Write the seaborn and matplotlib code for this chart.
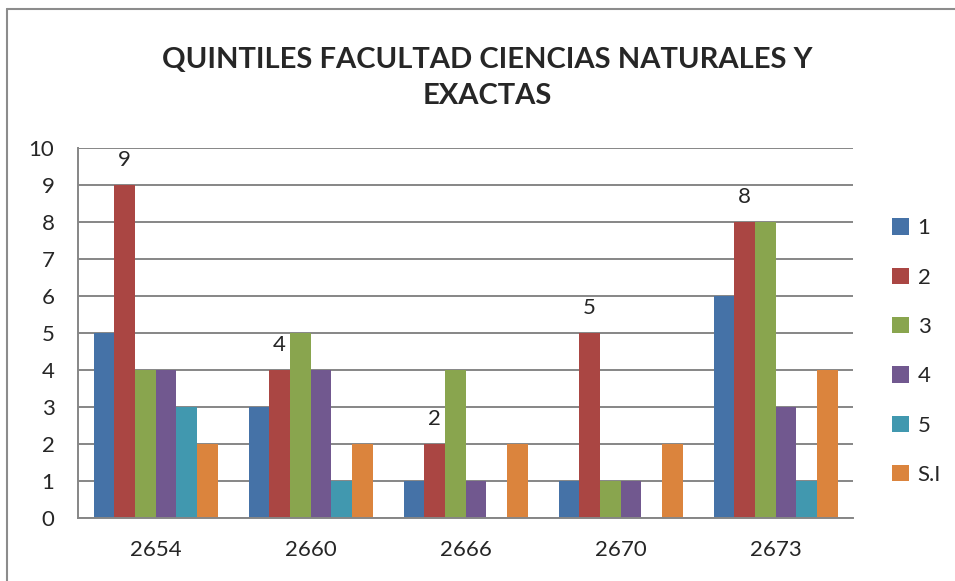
import pandas as pd
import matplotlib.pyplot as plt
import seaborn as sns
from matplotlib.patches import Patch
from matplotlib.lines import Line2D

# ------------------------------------------------------------
# DATA
# ------------------------------------------------------------
grupos = ["2654", "2660", "2666", "2670", "2673"]
quintiles = ["1", "2", "3", "4", "5", "S.I"]
q1 = [5, 3, 1, 1, 6]
q2 = [9, 4, 2, 5, 8]
q3 = [4, 5, 4, 1, 8]
q4 = [4, 4, 1, 1, 3]
q5 = [3, 1, 0, 0, 1]
si = [2, 2, 2, 2, 4]
colores = ["#4572A7", "#AA4643", "#89A54E", "#71588F", "#4198AF", "#DB843D"]

series = [q1, q2, q3, q4, q5, si]
rows = []
for q, vals in zip(quintiles, series):
    for g, v in zip(grupos, vals):
        rows.append({"Grupo": g, "Quintil": q, "Cantidad": v})
df = pd.DataFrame(rows)

# ------------------------------------------------------------
# PLOT
# ------------------------------------------------------------
sns.set_style("white")
plt.rcParams['font.family'] = ['Lato', 'DejaVu Sans']

fig = plt.figure(figsize=(9.55, 5.81), dpi=100)
ax = fig.add_axes([0.0817, 0.1084, 0.8115, 0.6368])

sns.barplot(data=df, x="Grupo", y="Cantidad", hue="Quintil", order=grupos,
            hue_order=quintiles, palette=colores, width=0.8, ax=ax,
            linewidth=0, saturation=1, legend=False)

ax.set_ylim(0, 10)
ax.set_xlim(-0.5, 4.5)
ax.set_yticks(range(0, 11))
ax.yaxis.grid(True, color="#868686", linewidth=1.4)
ax.set_axisbelow(True)
ax.set_xlabel("")
ax.set_ylabel("")
for s in ["top", "right"]:
    ax.spines[s].set_visible(False)
for s in ["left", "bottom"]:
    ax.spines[s].set_color("#868686")
    ax.spines[s].set_linewidth(1.4)
ax.tick_params(axis="y", length=0, pad=17, labelsize=16)
ax.tick_params(axis="x", length=0, pad=16, labelsize=16)

# labels only on quintile 2
ax.bar_label(ax.containers[1], padding=11, fontsize=16)

fig.text(0.51, 0.866, "QUINTILES FACULTAD CIENCIAS NATURALES Y\nEXACTAS",
         ha="center", va="center", fontsize=21, fontweight="bold",
         linespacing=1.45)

handles = [Patch(facecolor=c, edgecolor="none") for c in colores]
fig.legend(handles, quintiles, loc="center left", bbox_to_anchor=(0.9225, 0.395),
           frameon=False, fontsize=16, handlelength=0.75, handleheight=0.75,
           handletextpad=0.4, labelspacing=1.32, borderpad=0)

# outer border (left and top only visible)
fig.add_artist(Line2D([7 / 955, 7 / 955], [0, 1 - 9 / 581], color="#8c8c8c", linewidth=1.5))
fig.add_artist(Line2D([7 / 955, 1], [1 - 9 / 581, 1 - 9 / 581], color="#8c8c8c", linewidth=1.5))

plt.savefig("out.png", dpi=100)
